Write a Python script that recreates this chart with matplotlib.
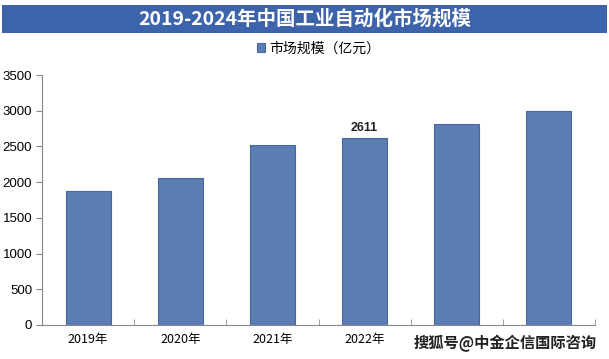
import matplotlib
matplotlib.use('Agg')
import matplotlib.pyplot as plt
from matplotlib.patches import Rectangle
import numpy as np

plt.rcParams['font.family'] = ['Liberation Sans', 'Noto Sans CJK SC', 'DejaVu Sans']

years = ['2019年', '2020年', '2021年', '2022年', '2023年', '2024年']
market_size = [1880, 2060, 2520, 2611, 2815, 2995]
labelled = {3: '2611'}
y_ticks = [0, 500, 1000, 1500, 2000, 2500, 3000, 3500]

fig = plt.figure(figsize=(6.09, 3.59), dpi=100)

# title banner
fig.patches.append(Rectangle((0.004, 0.908), 0.992, 0.078, transform=fig.transFigure,
                             facecolor='#3d63ab', edgecolor='none', zorder=0))
fig.text(0.5, 0.947, '2019-2024年中国工业自动化市场规模', ha='center', va='center',
         color='white', fontsize=14, fontweight='bold',
         family=['Noto Sans CJK SC', 'DejaVu Sans'])

ax = fig.add_axes([0.069, 0.095, 0.908, 0.696])
x = np.arange(len(years))
bars = ax.bar(x, market_size, width=0.49, color='#5b7db3', edgecolor='#4a679a',
              linewidth=0.8, label='市场规模（亿元）')

for i, txt in labelled.items():
    ax.text(x[i], market_size[i] + 60, txt, ha='center', va='bottom',
            fontsize=9, fontweight='bold', color='#222222')

ax.set_xlim(-0.5, len(years) - 0.5)
ax.set_ylim(0, 3500)
ax.set_yticks(y_ticks)
ax.set_xticks(x)
ax.set_xticklabels(years, family=['Noto Sans CJK SC', 'DejaVu Sans'])
ax.set_xticks(np.arange(-0.5, len(years)), minor=True)
ax.tick_params(axis='x', which='major', length=0, labelsize=9, pad=6)
ax.tick_params(axis='x', which='minor', length=4, direction='in', color='#888888')
ax.tick_params(axis='y', length=4, direction='out', color='#888888', labelsize=9.5, pad=3)
for s in ['top', 'right']:
    ax.spines[s].set_visible(False)
for s in ['left', 'bottom']:
    ax.spines[s].set_color('#888888')

ax.legend(loc='center', bbox_to_anchor=(0.5, 1.105), frameon=False,
          handlelength=0.6, handleheight=0.6, handletextpad=0.3,
          prop={'family': ['Noto Sans CJK SC', 'DejaVu Sans'], 'size': 10})

# watermark sits over the last two year labels, as in the source image
fig.text(0.98, 0.043, '搜狐号@中金企信国际咨询', ha='right', va='center',
         fontsize=11, fontweight='bold', color='#222222', zorder=10,
         family=['Noto Sans CJK SC', 'DejaVu Sans'],
         bbox=dict(facecolor='white', edgecolor='none', pad=4))

fig.savefig('out.png', dpi=100)
